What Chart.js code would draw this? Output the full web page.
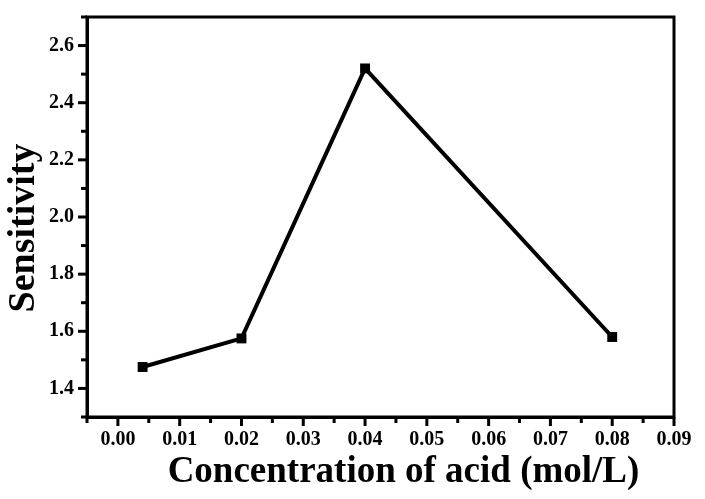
<!DOCTYPE html>
<html><head><meta charset="utf-8">
<script src="https://cdn.jsdelivr.net/npm/chart.js@4"></script>
<style>html,body{margin:0;padding:0;background:#fff}#wrap{width:705px;height:499px}</style>
</head><body><div id="wrap"><canvas id="c" width="705" height="499"></canvas></div>
<script>
const concentrations = [0.004, 0.02, 0.04, 0.08];
const sensitivity = [1.475, 1.575, 2.52, 1.58];
const xTitle = 'Concentration of acid (mol/L)';
const yTitle = 'Sensitivity';

const FONT = '"Liberation Serif", "Times New Roman", serif';

const frameTicks = {
  id: 'frameTicks',
  afterDraw(chart) {
    const ctx = chart.ctx, a = chart.chartArea;
    ctx.save();
    ctx.strokeStyle = '#000';
    ctx.lineWidth = 3;
    ctx.strokeRect(a.left, a.top, a.right - a.left, a.bottom - a.top);
    ctx.lineWidth = 3;
    const xs = chart.scales.x, ys = chart.scales.y;
    xs.ticks.forEach(t => {
      const v = t.value;
      const major = Math.abs(v * 100 - Math.round(v * 100)) < 1e-6;
      const px = xs.getPixelForValue(v);
      ctx.beginPath();
      ctx.moveTo(px, a.bottom);
      ctx.lineTo(px, a.bottom + (major ? 9 : 6));
      ctx.stroke();
    });
    ys.ticks.forEach(t => {
      const v = t.value;
      const major = Math.round(v * 10) % 2 === 0;
      const py = ys.getPixelForValue(v);
      ctx.beginPath();
      ctx.moveTo(a.left, py);
      ctx.lineTo(a.left - (major ? 9 : 6), py);
      ctx.stroke();
    });
    // axis titles
    ctx.fillStyle = '#000';
    ctx.font = 'bold 37px ' + FONT;
    ctx.textAlign = 'center';
    ctx.textBaseline = 'alphabetic';
    ctx.fillText(xTitle, (a.left + a.right) / 2 + 23, a.bottom + 65);
    ctx.save();
    ctx.translate(34, (a.top + a.bottom) / 2 + 11);
    ctx.rotate(-Math.PI / 2);
    ctx.font = 'bold 38px ' + FONT;
    ctx.fillText(yTitle, 0, 0);
    ctx.restore();
    ctx.restore();
  }
};

new Chart(document.getElementById('c'), {
  type: 'line',
  data: {
    datasets: [{
      data: concentrations.map((x, i) => ({x, y: sensitivity[i]})),
      borderColor: '#000',
      backgroundColor: '#000',
      borderWidth: 4,
      pointStyle: 'rect',
      pointRadius: 7,
      pointBorderWidth: 0,
      tension: 0
    }]
  },
  options: {
    responsive: false,
    animation: false,
    devicePixelRatio: 1,
    layout: { padding: { top: 17, right: 31, left: 0, bottom: 0 } },
    plugins: { legend: { display: false }, tooltip: { enabled: false } },
    scales: {
      x: {
        type: 'linear', min: -0.005, max: 0.09,
        afterFit: s => { s.height = 82; },
        grid: { drawOnChartArea: false, drawTicks: true, tickLength: 9, tickColor: 'rgba(0,0,0,0)' },
        border: { display: true, color: '#000', width: 3 },
        ticks: {
          stepSize: 0.005, autoSkip: false, maxRotation: 0, padding: 2,
          color: '#000', font: { family: FONT, size: 20, weight: 'bold' },
          callback: v => Math.abs(v * 100 - Math.round(v * 100)) < 1e-6 ? v.toFixed(2) : ''
        }
      },
      y: {
        min: 1.3, max: 2.7,
        afterFit: s => { s.width = 87; },
        grid: { drawOnChartArea: false, drawTicks: true, tickLength: 9, tickColor: 'rgba(0,0,0,0)' },
        border: { display: true, color: '#000', width: 3 },
        ticks: {
          stepSize: 0.1, autoSkip: false, padding: 4,
          color: '#000', font: { family: FONT, size: 20, weight: 'bold' },
          callback: v => Math.round(v * 10) % 2 === 0 ? v.toFixed(1) : ''
        }
      }
    }
  },
  plugins: [frameTicks]
});
</script></body></html>
